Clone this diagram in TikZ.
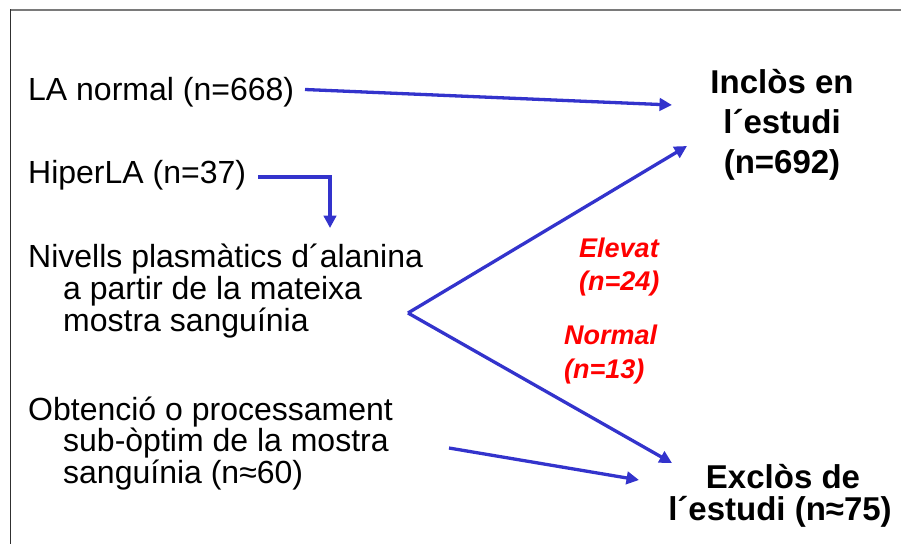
\documentclass[tikz,border=0pt]{standalone}
\usepackage{fontspec}
\setmainfont{Liberation Sans}
\usetikzlibrary{arrows.meta}
\definecolor{arrowblue}{HTML}{3333CC}
\definecolor{labelred}{HTML}{FF0000}
\definecolor{frametop}{HTML}{7A7A7A}
\definecolor{frameleft}{HTML}{303030}
\begin{document}
\begin{tikzpicture}[x=1pt,y=-1pt,
  txt/.style={anchor=base west,inner sep=0pt,font=\fontsize{32}{33}\selectfont},
  res/.style={anchor=base,inner sep=0pt,font=\fontsize{33}{40}\selectfont\bfseries},
  lab/.style={anchor=base west,inner sep=0pt,text=labelred,font=\fontsize{27}{33}\selectfont\bfseries\itshape},
  conn/.style={draw=arrowblue,line width=3.3pt,line join=miter,-{Triangle[length=12.5pt,width=12.5pt]}}]
\useasboundingbox (0,0) rectangle (901,544);
% frame
\draw[frametop,line width=1.9pt] (10,10) -- (901,10);
\draw[frameleft,line width=1.4pt] (10.6,9.2) -- (10.6,544);
% left texts
\node[txt] (la) at (28,100) {LA normal (n=668)};
\node[txt] (hyper) at (28,183) {HiperLA (n=37)};
\node[txt] (niv1) at (28,267) {Nivells plasmàtics d´alanina};
\node[txt] (niv2) at (63,299) {a partir de la mateixa};
\node[txt] (niv3) at (63,331) {mostra sanguínia};
\node[txt] (obt1) at (28,420) {Obtenció o processament};
\node[txt] (obt2) at (63,451.5) {sub-òptim de la mostra};
\node[txt] (obt3) at (63,483) {sanguínia (n≈60)};
% right results
\node[res] (inc1) at (782,93) {Inclòs en};
\node[res] (inc2) at (782,133) {l´estudi};
\node[res] (inc3) at (782,173) {(n=692)};
\node[res] (exc1) at (783,488) {Exclòs de};
\node[res] (exc2) at (780,520) {l´estudi (n≈75)};
% red labels
\node[lab] (el1) at (579,257) {Elevat};
\node[lab] (el2) at (579,290) {(n=24)};
\node[lab] (no1) at (564,344) {Normal};
\node[lab] (no2) at (564,378) {(n=13)};
% connector end points
\coordinate (laS) at (305,89.5);
\coordinate (laE) at (672,105);
\coordinate (hyS) at (258,177);
\coordinate (hyC) at (330,177);
\coordinate (hyE) at (330,228);
\coordinate (br) at (408,313);
\coordinate (upE) at (687,146);
\coordinate (dnE) at (672,463);
\coordinate (obS) at (449,448);
\coordinate (obE) at (639,480);
% connectors
\draw[conn] (laS) -- (laE);
\draw[conn] (hyS) -- (hyC) -- (hyE);
\draw[conn] (br) -- (upE);
\draw[conn] (br) -- (dnE);
\draw[conn] (obS) -- (obE);
\end{tikzpicture}
\end{document}
